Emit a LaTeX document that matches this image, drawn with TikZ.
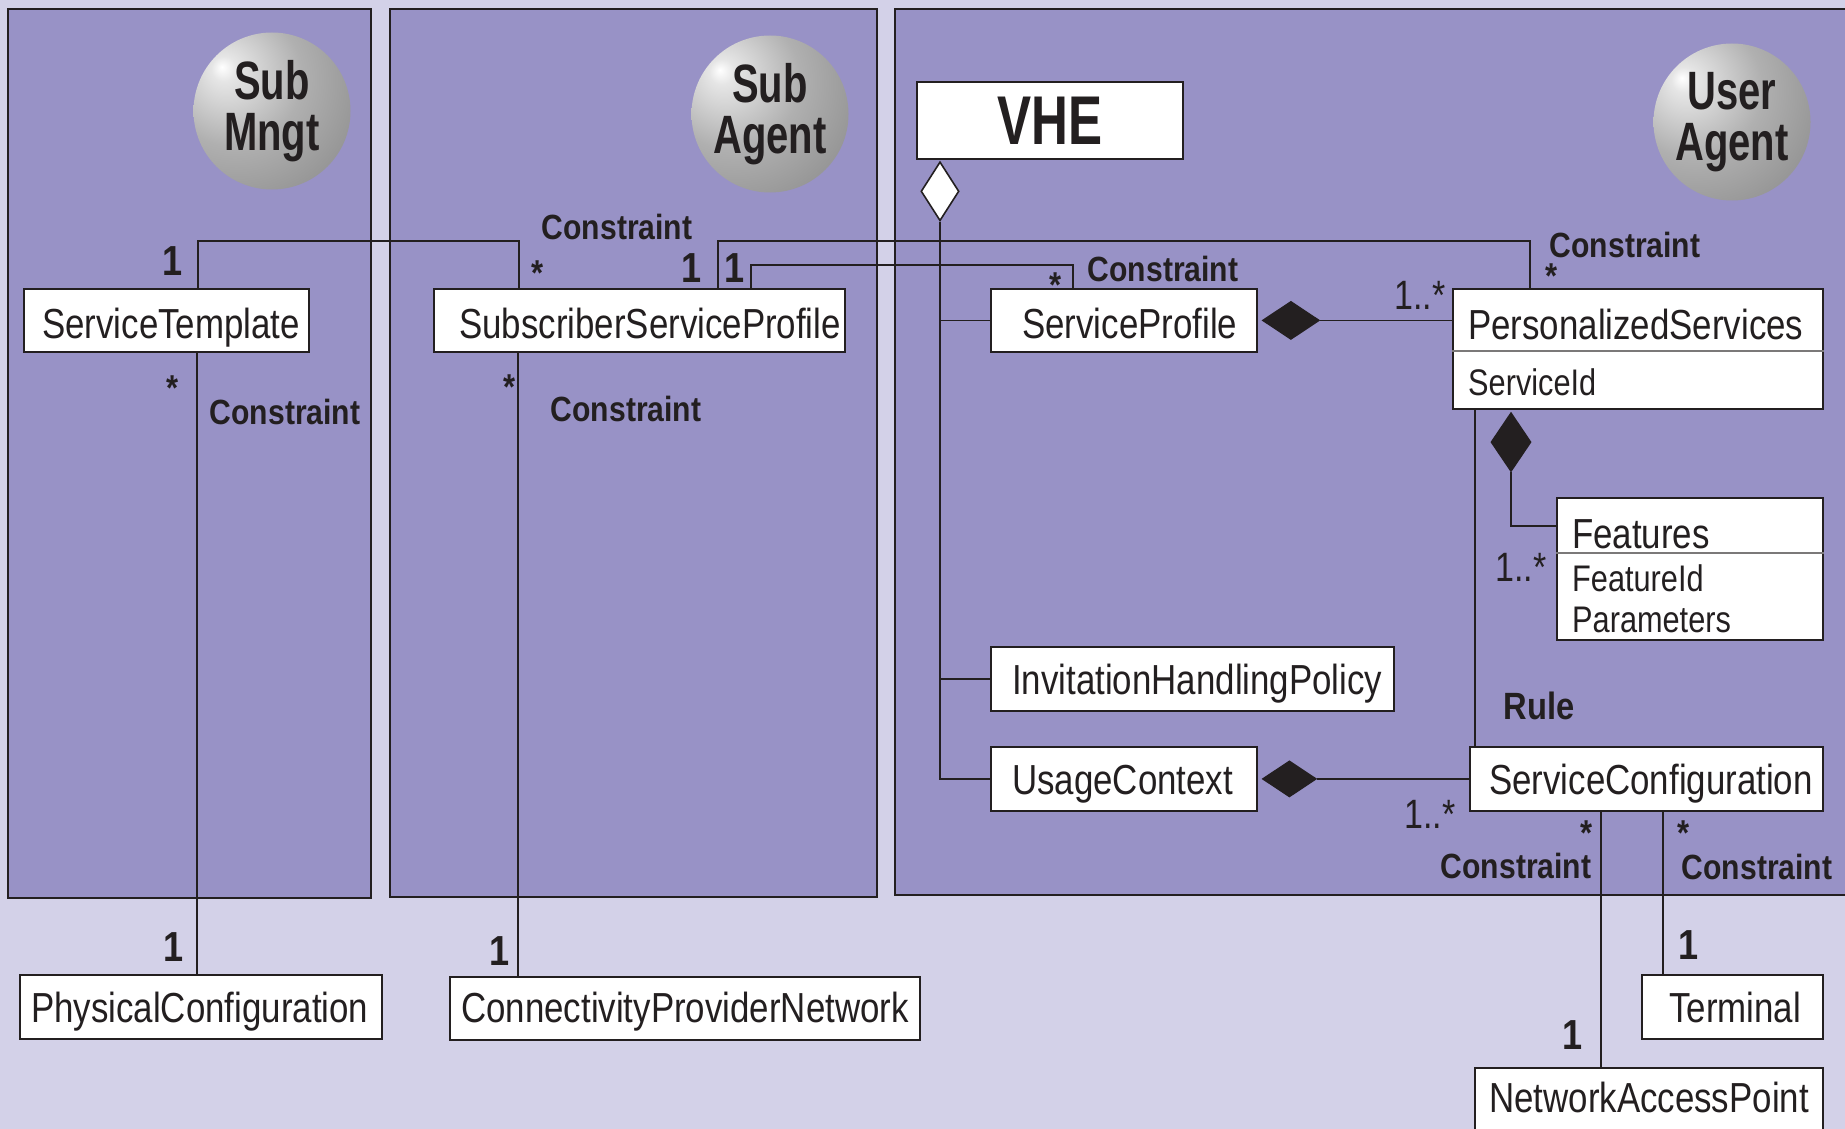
\documentclass[tikz,border=0pt]{standalone}
\usepackage{fontspec}
\setmainfont{Liberation Sans}
\newfontfamily\clsfont{Liberation Sans}[FakeStretch=0.83]
\newfontfamily\lblfont{Liberation Sans}[FakeStretch=0.86]
\newfontfamily\headfont{Liberation Sans}[FakeStretch=0.74]
\usetikzlibrary{shapes.geometric}
\definecolor{ink}{RGB}{35,31,32}
\definecolor{panelfill}{RGB}{152,146,198}
\definecolor{pagefill}{RGB}{211,209,232}
% grey sphere with a highlight towards the upper left
\pgfdeclareradialshading{orb}{\pgfpoint{-16bp}{14bp}}{%
  color(0bp)=(white); color(4bp)=(white!80!gray); color(22bp)=(gray!62);
  color(46bp)=(gray!92); color(62bp)=(gray!75!black); color(76bp)=(gray!55!black);
  color(100bp)=(gray!55!black)}
\begin{document}
\begin{tikzpicture}[x=1pt,y=-1pt,
  cls/.style={draw=ink, fill=white, line width=1.8pt, rectangle, inner sep=0pt, anchor=north west},
  ctext/.style={anchor=base west, inner sep=0pt, text=ink, font=\clsfont\fontsize{42}{46}\selectfont},
  atext/.style={ctext, font=\clsfont\fontsize{37}{40}\selectfont},
  tag/.style={inner sep=0pt, text=ink, font=\lblfont\bfseries\fontsize{35}{38}\selectfont},
  one/.style={inner sep=0pt, text=ink, font=\lblfont\bfseries\fontsize{42}{46}\selectfont},
  many/.style={inner sep=0pt, text=ink, font=\lblfont\bfseries\fontsize{36}{40}\selectfont},
  multrange/.style={inner sep=0pt, text=ink, font=\clsfont\fontsize{41}{44}\selectfont},
  wire/.style={draw=ink, line width=1.6pt},
  orbnode/.style={circle, shading=orb, minimum size=157pt, inner sep=0pt, align=center,
    text=ink, font=\headfont\bfseries\fontsize{54}{51}\selectfont},
  panel/.style={draw=ink, fill=panelfill, line width=1.6pt},
  comp/.style={diamond, draw=ink, fill=ink, line width=1.2pt, inner sep=0pt},
  agg/.style={diamond, draw=ink, fill=white, line width=1.6pt, inner sep=0pt}
]
% page and the three domain panels
\fill[pagefill] (0,0) rectangle (1845,1129);
\useasboundingbox (0,0) rectangle (1845,1129);
\draw[panel] (8,9) rectangle (371,898);
\draw[panel] (390,9) rectangle (877,897);
\draw[panel] (895,9) rectangle (1860,895);

% actors
\node[orbnode] (mngt) at (272,111) {Sub\\Mngt};
\node[orbnode] (agent) at (770,114) {Sub\\Agent};
\node[orbnode] (uagent) at (1732,122) {User\\Agent};

% VHE root
\node[cls, anchor=center, minimum width=266pt, minimum height=77pt, text=ink,
  font=\headfont\bfseries\fontsize{69}{70}\selectfont] (vhe) at (1050,120.5) {VHE};

% classes
\node[cls, minimum width=285pt, minimum height=63pt] (st) at (23,288) {};
\node[ctext] (stT) at (42,338) {ServiceTemplate};
\node[cls, minimum width=411pt, minimum height=63pt] (ssp) at (433,288) {};
\node[ctext] (sspT) at (459,338) {SubscriberServiceProfile};
\node[cls, minimum width=266pt, minimum height=63pt] (sp) at (990,288) {};
\node[ctext] (spT) at (1022,338) {ServiceProfile};
\node[cls, minimum width=370pt, minimum height=120pt] (ps) at (1452,288) {};
\draw[ink!60, line width=1.6pt] (ps.west |- 0,351) -- (ps.east |- 0,351);
\node[ctext] (psT) at (1468,339) {PersonalizedServices};
\node[atext] (psA) at (1468,395) {ServiceId};
\node[cls, minimum width=266pt, minimum height=142pt] (feat) at (1556,497) {};
\draw[ink!60, line width=1.6pt] (feat.west |- 0,553) -- (feat.east |- 0,553);
\node[ctext] (featT) at (1572,548) {Features};
\node[atext] (featA) at (1572,591) {FeatureId};
\node[atext] (featB) at (1572,632) {Parameters};
\node[cls, minimum width=403pt, minimum height=64pt] (ihp) at (990,646) {};
\node[ctext] (ihpT) at (1012,694) {InvitationHandlingPolicy};
\node[cls, minimum width=266pt, minimum height=64pt] (uc) at (990,746) {};
\node[ctext] (ucT) at (1012,794) {UsageContext};
\node[cls, minimum width=353pt, minimum height=64pt] (sc) at (1469,746) {};
\node[ctext] (scT) at (1489,794) {ServiceConfiguration};
\node[cls, minimum width=362pt, minimum height=64pt] (pc) at (19,974) {};
\node[ctext] (pcT) at (31,1022) {PhysicalConfiguration};
\node[cls, minimum width=470pt, minimum height=63pt] (cpn) at (449,976) {};
\node[ctext] (cpnT) at (461,1022) {ConnectivityProviderNetwork};
\node[cls, minimum width=181pt, minimum height=64pt] (term) at (1641,974) {};
\node[ctext] (termT) at (1669,1022) {Terminal};
\node[cls, minimum width=348pt, minimum height=72pt] (nap) at (1474,1067) {};
\node[ctext] (napT) at (1489,1112) {NetworkAccessPoint};

% aggregation of VHE
\node[agg, minimum width=38pt, minimum height=59pt, anchor=north] (vd) at (940,161) {};
\draw[wire] (vd.south) -- (vd.south |- uc.west) -- (uc.west);
\draw[wire] (vd.south |- sp.west) -- (sp.west);
\draw[wire] (vd.south |- ihp.west) -- (ihp.west);

% compositions
\node[comp, minimum width=57pt, minimum height=38pt, anchor=west] (d1) at ([xshift=4pt]sp.east) {};
\draw[wire] (d1.east) -- (d1.east -| ps.west);
\node[comp, minimum width=40pt, minimum height=59pt, anchor=north] (d2) at (1511,412) {};
\draw[wire] (d2.south) -- (1511,526) -- (feat.west |- 0,526);
\node[comp, minimum width=54pt, minimum height=36pt, anchor=west] (d3) at ([xshift=4pt]uc.east) {};
\draw[wire] (d3.east) -- (d3.east -| sc.west);

% associations
\draw[wire] (198,0 |- st.north) -- (198,241) -- (519,241) -- (519,0 |- ssp.north);
\draw[wire] (197,0 |- st.south) -- (197,0 |- pc.north);
\draw[wire] (518,0 |- ssp.south) -- (518,0 |- cpn.north);
\draw[wire] (718,0 |- ssp.north) -- (718,241) -- (1530,241) -- (1530,0 |- ps.north);
\draw[wire] (751,0 |- ssp.north) -- (751,265) -- (1073,265) -- (1073,0 |- sp.north);
\draw[wire] (1475,0 |- ps.south) -- (1475,0 |- sc.north);
\draw[wire] (1601,0 |- sc.south) -- (1601,0 |- nap.north);
\draw[wire] (1663,0 |- sc.south) -- (1663,0 |- term.north);

% association labels
\node[tag] (c1) at (617,227) {Constraint};
\node[tag] (c2) at (285,412) {Constraint};
\node[tag] (c3) at (626,409) {Constraint};
\node[tag] (c4) at (1163,269) {Constraint};
\node[tag] (c5) at (1625,245) {Constraint};
\node[tag] (c6) at (1516,866) {Constraint};
\node[tag] (c7) at (1757,867) {Constraint};
\node[tag, font=\lblfont\bfseries\fontsize{38}{40}\selectfont] (rule) at (1539,706) {Rule};

% multiplicities
\node[one] (m1) at (173,261) {1};
\node[one] (m2) at (174,947) {1};
\node[one] (m3) at (500,951) {1};
\node[one] (m4) at (692,268) {1};
\node[one] (m5) at (735,268) {1};
\node[one] (m6) at (1573,1035) {1};
\node[one] (m7) at (1689,945) {1};
\node[many] (s1) at (538,273) {*};
\node[many] (s2) at (173,388) {*};
\node[many] (s3) at (510,387) {*};
\node[many] (s4) at (1056,285) {*};
\node[many] (s5) at (1552,276) {*};
\node[many] (s6) at (1587,833) {*};
\node[many] (s7) at (1684,833) {*};
\node[multrange] (r1) at (1420,295) {1..*};
\node[multrange] (r2) at (1521,567) {1..*};
\node[multrange] (r3) at (1430,814) {1..*};
\end{tikzpicture}
\end{document}
